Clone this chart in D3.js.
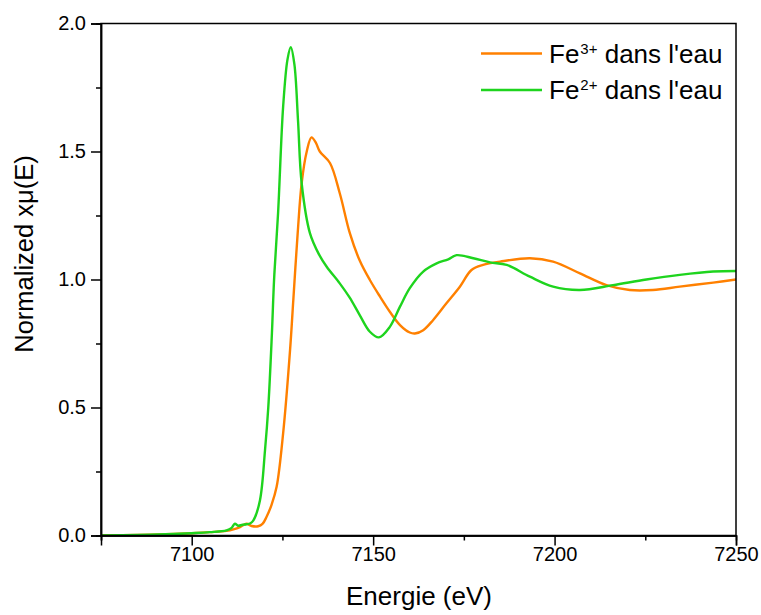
<!DOCTYPE html>
<html>
<head>
<meta charset="utf-8">
<script src="https://cdn.jsdelivr.net/npm/d3@7"></script>
<style>
  body { margin: 0; background: #fff; }
  svg { display: block; }
  text { font-family: "Liberation Sans", Arial, sans-serif; fill: #000; }
</style>
</head>
<body>
<svg id="chart" width="761" height="615"></svg>
<script>
// ---- Data ----
const xTicks = [7100, 7150, 7200, 7250];
const xMinorTicks = [7075, 7125, 7175, 7225];
const yTicks = [0.0, 0.5, 1.0, 1.5, 2.0];
const yMinorTicks = [0.25, 0.75, 1.25, 1.75];

const seriesNames = ["Fe3+ dans l'eau", "Fe2+ dans l'eau"];

// Fe3+ (orange)
const fe3Energy = [7075, 7085, 7095, 7100, 7105, 7109.6, 7111.5, 7113.3, 7115.1, 7116.5, 7118.3, 7119.5, 7120.6, 7122, 7123.4, 7125.2, 7127.1, 7128, 7129.2, 7130.3, 7131.7, 7133, 7134.2, 7135.3, 7138.1, 7140.8, 7143.6, 7146.3, 7149.1, 7151.9, 7154.6, 7157.4, 7160.1, 7161.5, 7163.8, 7166.5, 7170.2, 7173.9, 7177.1, 7180.3, 7185, 7193.2, 7199.6, 7207, 7214.3, 7220.7, 7227.1, 7234.5, 7243.7, 7250];
const fe3Values = [0.0, 0.002, 0.006, 0.009, 0.013, 0.018, 0.024, 0.033, 0.046, 0.037, 0.036, 0.045, 0.072, 0.12, 0.19, 0.40, 0.724, 0.92, 1.18, 1.376, 1.50, 1.555, 1.535, 1.50, 1.455, 1.337, 1.18, 1.074, 0.998, 0.933, 0.874, 0.822, 0.793, 0.789, 0.802, 0.841, 0.907, 0.972, 1.037, 1.057, 1.07, 1.083, 1.07, 1.024, 0.978, 0.959, 0.959, 0.972, 0.988, 1.0];

// Fe2+ (green)
const fe2Energy = [7075, 7085, 7095, 7100, 7105, 7109.6, 7111.0, 7111.9, 7112.8, 7114.0, 7115.1, 7116.2, 7117, 7118.8, 7120.2, 7121.1, 7122.1, 7122.7, 7123.8, 7125.2, 7126.4, 7127.3, 7128.3, 7129.3, 7130.3, 7132.6, 7135, 7137.2, 7140.8, 7143.5, 7146.3, 7149.1, 7151.6, 7154.6, 7157.4, 7160.1, 7163.8, 7167.5, 7170.7, 7173, 7177.6, 7182.2, 7186.8, 7193.2, 7199.6, 7207, 7216.1, 7225.3, 7234.5, 7243.7, 7250];
const fe2Values = [0.0, 0.002, 0.006, 0.009, 0.013, 0.02, 0.03, 0.046, 0.038, 0.042, 0.044, 0.048, 0.059, 0.137, 0.333, 0.50, 0.789, 1.0, 1.259, 1.676, 1.86, 1.907, 1.84, 1.62, 1.376, 1.18, 1.10, 1.05, 0.985, 0.93, 0.861, 0.796, 0.774, 0.815, 0.894, 0.966, 1.031, 1.063, 1.079, 1.095, 1.083, 1.067, 1.057, 1.011, 0.972, 0.959, 0.978, 1.0, 1.018, 1.031, 1.033];

const colors = ["#FF8000", "#1ED41E"];

// ---- Layout ----
const svg = d3.select("#chart");
const pLeft = 101, pRight = 736, pTop = 23.5, pBottom = 535.5;

const x = d3.scaleLinear().domain([7075, 7250]).range([pLeft, pRight]);
const y = d3.scaleLinear().domain([0, 2]).range([pBottom, pTop]);

// Axes
const xAxis = d3.axisBottom(x).tickValues(xTicks).tickSize(10).tickPadding(1.5).tickFormat(d3.format("d"));
const xMinor = d3.axisBottom(x).tickValues(xMinorTicks).tickSize(5).tickFormat("");
const yAxis = d3.axisLeft(y).tickValues(yTicks).tickSize(10).tickPadding(5).tickFormat(d3.format(".1f"));
const yMinor = d3.axisLeft(y).tickValues(yMinorTicks).tickSize(5).tickFormat("");

function styleAxis(g) {
  g.select(".domain").attr("stroke", "#000").attr("stroke-width", 1.5);
  g.selectAll(".tick line").attr("stroke", "#000").attr("stroke-width", 1.5);
  g.selectAll(".tick text").attr("font-size", 20).attr("font-family", "Liberation Sans, Arial, sans-serif").attr("fill", "#000");
}

// Lines
const line = d3.line()
  .x(d => x(d[0])).y(d => y(d[1]))
  .curve(d3.curveCatmullRom.alpha(0.5));

const series = [
  d3.zip(fe3Energy, fe3Values),
  d3.zip(fe2Energy, fe2Values)
];

svg.append("clipPath").attr("id", "clip")
  .append("rect").attr("x", pLeft).attr("y", pTop).attr("width", pRight - pLeft).attr("height", pBottom - pTop);

series.forEach((s, i) => {
  svg.append("path")
    .datum(s)
    .attr("clip-path", "url(#clip)")
    .attr("fill", "none")
    .attr("stroke", colors[i])
    .attr("stroke-width", 2.4)
    .attr("stroke-linejoin", "round")
    .attr("d", line);
});

// Frame
svg.append("rect")
  .attr("x", pLeft).attr("y", pTop)
  .attr("width", pRight - pLeft).attr("height", pBottom - pTop)
  .attr("fill", "none").attr("stroke", "#000").attr("stroke-width", 1.5);

svg.append("g").attr("transform", `translate(0,${pBottom})`).call(xAxis).call(styleAxis);
svg.append("g").attr("transform", `translate(0,${pBottom})`).call(xMinor).call(styleAxis);
svg.append("g").attr("transform", `translate(${pLeft},0)`).call(yAxis).call(styleAxis);
svg.append("g").attr("transform", `translate(${pLeft},0)`).call(yMinor).call(styleAxis);

// Axis titles
svg.append("text")
  .attr("x", 419).attr("y", 605)
  .attr("text-anchor", "middle").attr("font-size", 26)
  .text("Energie (eV)");

svg.append("text")
  .attr("transform", `translate(33,254) rotate(-90)`)
  .attr("text-anchor", "middle").attr("font-size", 25.5)
  .text("Normalized xμ(E)");

// Legend
const legendItems = [
  { base: "Fe", sup: "3+", rest: " dans l'eau", color: colors[0], y: 53.5 },
  { base: "Fe", sup: "2+", rest: " dans l'eau", color: colors[1], y: 90 }
];
legendItems.forEach(item => {
  svg.append("line")
    .attr("x1", 481).attr("x2", 542)
    .attr("y1", item.y).attr("y2", item.y)
    .attr("stroke", item.color).attr("stroke-width", 2.4);
  const t = svg.append("text")
    .attr("x", 549).attr("y", item.y + 9)
    .attr("font-size", 26);
  t.append("tspan").text(item.base);
  t.append("tspan").attr("font-size", 15).attr("dx", 1).attr("dy", -9).text(item.sup);
  t.append("tspan").attr("dy", 9).text(item.rest);
});
</script>
</body>
</html>
